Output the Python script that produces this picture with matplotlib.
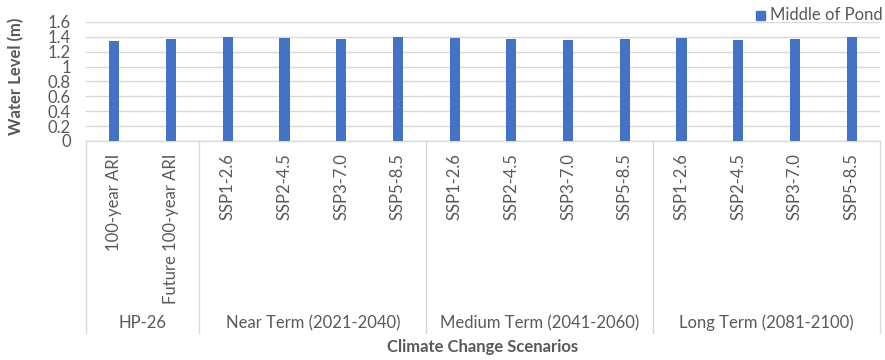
import matplotlib
matplotlib.use("Agg")
import matplotlib.pyplot as plt
from matplotlib.transforms import blended_transform_factory
from matplotlib.patches import Rectangle

plt.rcParams['font.family'] = ['Lato', 'DejaVu Sans']

# Scenario data
scenarios = ["100-year ARI", "Future 100-year ARI",
             "SSP1-2.6", "SSP2-4.5", "SSP3-7.0", "SSP5-8.5",
             "SSP1-2.6", "SSP2-4.5", "SSP3-7.0", "SSP5-8.5",
             "SSP1-2.6", "SSP2-4.5", "SSP3-7.0", "SSP5-8.5"]
groups = ["HP-26", "Near Term (2021-2040)", "Medium Term (2041-2060)", "Long Term (2081-2100)"]
group_sizes = [2, 4, 4, 4]
middle_of_pond = [1.35, 1.37, 1.40, 1.39, 1.37, 1.40,
                  1.39, 1.37, 1.36, 1.37, 1.39, 1.36, 1.37, 1.40]
yticks = [0, 0.2, 0.4, 0.6, 0.8, 1, 1.2, 1.4, 1.6]
ytick_labels = ["0", "0.2", "0.4", "0.6", "0.8", "1", "1.2", "1.4", "1.6"]

W, H = 885, 360
fig = plt.figure(figsize=(W / 100, H / 100), dpi=100)
left, right, top, bottom = 86, 880, 22, 141
ax = fig.add_axes([left / W, 1 - bottom / H, (right - left) / W, (bottom - top) / H])

text_color = "#595959"
grid_color = "#D9D9D9"
bar_color = "#4472C4"

x = list(range(len(scenarios)))
ax.bar(x, middle_of_pond, width=0.18, color=bar_color, zorder=3)

ax.set_xlim(-0.5, len(scenarios) - 0.5)
ax.set_ylim(0, 1.6)
ax.set_yticks(yticks)
ax.set_yticklabels(ytick_labels)
ax.yaxis.grid(True, color=grid_color, linewidth=1.0, zorder=0)
ax.set_axisbelow(True)

for s in ["top", "right", "left"]:
    ax.spines[s].set_visible(False)
ax.spines["bottom"].set_color(grid_color)
ax.spines["bottom"].set_linewidth(1.0)

ax.tick_params(axis="y", length=0, pad=11, labelsize=12, labelcolor=text_color)
ax.set_xticks(x)
ax.set_xticklabels(scenarios, rotation=90, va="top", ha="center")
ax.tick_params(axis="x", length=0, pad=9, labelsize=12, labelcolor=text_color)

# Group separators and group labels below the axis
trans = blended_transform_factory(ax.transData, fig.transFigure)
y_line_bottom = 1 - 333 / H
y_group = 1 - 323 / H
edges = [-0.5]
for n in group_sizes:
    edges.append(edges[-1] + n)
for e in edges:
    ax.plot([e, e], [1 - bottom / H, y_line_bottom], transform=trans,
            color=grid_color, linewidth=1.0, clip_on=False)
for i, g in enumerate(groups):
    cx = (edges[i] + edges[i + 1]) / 2
    ax.text(cx, y_group, g, transform=trans, ha="center", va="center",
            fontsize=12, color=text_color)

# Axis titles
fig.text((left + right) / 2 / W, 1 - 347 / H, "Climate Change Scenarios",
         ha="center", va="center", fontsize=12, fontweight="bold", color=text_color)
fig.text(16 / W, 1 - 76 / H, "Water Level (m)", rotation=90,
         ha="center", va="center", fontsize=12, fontweight="bold", color=text_color)

# Legend
fig.patches.append(Rectangle((756 / W, 1 - 20 / H), 9 / W, 9 / H,
                             transform=fig.transFigure, color=bar_color))
fig.text(770 / W, 1 - 15 / H, "Middle of Pond", ha="left", va="center",
         fontsize=12, color=text_color)

fig.savefig("out.png", dpi=100)
